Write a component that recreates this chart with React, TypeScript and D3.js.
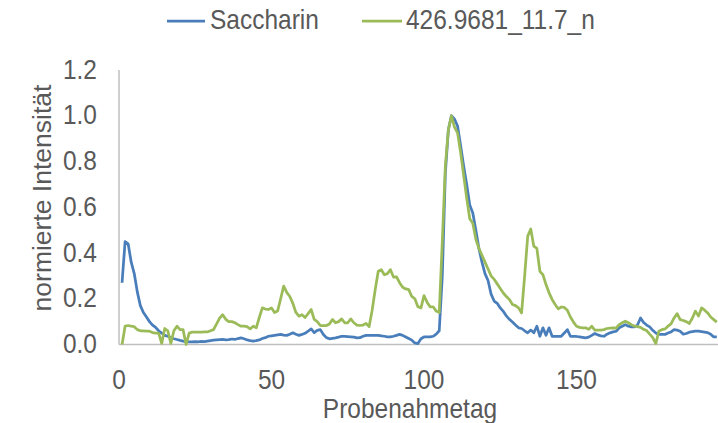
import React from "react";
import * as d3 from "d3";

const seriesNames = ["Saccharin", "426.9681_11.7_n"];

const saccharin = [
  0.27, 0.45, 0.44, 0.36, 0.31, 0.23, 0.17, 0.14, 0.12, 0.10,
  0.085, 0.075, 0.06, 0.05, 0.04, 0.036, 0.03, 0.025, 0.022, 0.018,
  0.015, 0.013, 0.012, 0.012, 0.013, 0.012, 0.014, 0.013, 0.015, 0.017,
  0.019, 0.02, 0.021, 0.022, 0.02, 0.021, 0.024, 0.022, 0.026, 0.029,
  0.025, 0.02, 0.017, 0.015, 0.017, 0.02, 0.026, 0.03, 0.036, 0.038,
  0.04, 0.042, 0.044, 0.041, 0.04, 0.045, 0.051, 0.045, 0.04, 0.044,
  0.049, 0.058, 0.068, 0.052, 0.062, 0.065, 0.044, 0.03, 0.025, 0.027,
  0.029, 0.032, 0.036, 0.035, 0.034, 0.033, 0.032, 0.029, 0.03, 0.036,
  0.04, 0.04, 0.04, 0.04, 0.04, 0.038, 0.036, 0.033, 0.033, 0.036,
  0.04, 0.044, 0.04, 0.033, 0.026, 0.019, 0.007, 0.004, 0.025, 0.033,
  0.033, 0.033, 0.036, 0.045, 0.06, 0.3, 0.75, 0.94, 1.0, 0.985,
  0.955, 0.87, 0.78, 0.70, 0.61, 0.575, 0.50, 0.42, 0.36, 0.31,
  0.28, 0.22, 0.19, 0.18, 0.16, 0.145, 0.125, 0.11, 0.098, 0.085,
  0.073, 0.07, 0.06, 0.051, 0.063, 0.051, 0.08, 0.036, 0.073, 0.04,
  0.073, 0.036, 0.036, 0.036, 0.036, 0.05, 0.065, 0.036, 0.036, 0.035,
  0.033, 0.031, 0.029, 0.032, 0.04, 0.048, 0.042, 0.038, 0.036, 0.045,
  0.051, 0.055, 0.058, 0.073, 0.08, 0.087, 0.08, 0.077, 0.077, 0.085,
  0.116, 0.096, 0.085, 0.077, 0.062, 0.05, 0.044, 0.044, 0.044, 0.05,
  0.055, 0.065, 0.063, 0.058, 0.045, 0.048, 0.054, 0.056, 0.058, 0.058,
  0.056, 0.054, 0.052, 0.045, 0.033, 0.033,
];

const compound = [
  0.0, 0.08, 0.083, 0.08, 0.078, 0.065, 0.06, 0.06, 0.058, 0.058,
  0.052, 0.05, 0.05, 0.005, 0.07, 0.06, 0.005, 0.06, 0.08, 0.065,
  0.065, 0.0, 0.05, 0.054, 0.054, 0.054, 0.054, 0.055, 0.055, 0.06,
  0.065, 0.09, 0.115, 0.13, 0.11, 0.1, 0.1, 0.095, 0.087, 0.08,
  0.08, 0.078, 0.068, 0.08, 0.073, 0.118, 0.16, 0.155, 0.153, 0.16,
  0.14, 0.146, 0.2, 0.255, 0.228, 0.21, 0.18, 0.14, 0.124, 0.13,
  0.118, 0.135, 0.153, 0.11, 0.1, 0.083, 0.083, 0.083, 0.09, 0.109,
  0.095, 0.1, 0.112, 0.095, 0.095, 0.112, 0.095, 0.085, 0.083, 0.085,
  0.092, 0.078, 0.15, 0.24, 0.32, 0.327, 0.305, 0.31, 0.327, 0.295,
  0.296, 0.27, 0.25, 0.243, 0.24, 0.21, 0.2, 0.165, 0.16, 0.214,
  0.185, 0.165, 0.165, 0.146, 0.14, 0.45, 0.78, 0.94, 1.0, 0.95,
  0.925, 0.84, 0.74, 0.64, 0.55, 0.53, 0.46, 0.42, 0.39, 0.36,
  0.33, 0.30, 0.285, 0.265, 0.245, 0.225, 0.21, 0.197, 0.175, 0.17,
  0.16, 0.138, 0.3, 0.473, 0.505, 0.43, 0.42, 0.32, 0.305, 0.262,
  0.226, 0.197, 0.175, 0.156, 0.164, 0.162, 0.15, 0.12, 0.098, 0.08,
  0.075, 0.073, 0.073, 0.066, 0.08, 0.063, 0.063, 0.063, 0.065, 0.07,
  0.072, 0.073, 0.072, 0.087, 0.095, 0.102, 0.095, 0.087, 0.08, 0.078,
  0.075, 0.066, 0.061, 0.045, 0.03, 0.004, 0.058, 0.065, 0.068, 0.08,
  0.09, 0.116, 0.135, 0.109, 0.105, 0.1, 0.092, 0.116, 0.146, 0.124,
  0.16, 0.15, 0.138, 0.12, 0.109, 0.098,
];

const xTicks = [0, 50, 100, 150];
const yTicks = [0, 0.2, 0.4, 0.6, 0.8, 1.0, 1.2];
const xTitle = "Probenahmetag";
const yTitle = "normierte Intensität";

const colors = ["#4A7EBB", "#9BBB59"];
const textColor = "#595959";
const FONT = "'Liberation Sans', Arial, sans-serif";
const FS = 24.5;
const SY = 1.12;

export default function App() {
  const W = 718, H = 423;
  const x = d3.scaleLinear().domain([0, 200]).range([119, 729]);
  const y = d3.scaleLinear().domain([0, 1.2]).range([344.5, 70]);
  const line = d3
    .line<number>()
    .x((_, i) => x(i + 1))
    .y((d) => y(d));
  const series = [saccharin, compound];

  const T = (props: { x: number; y: number; anchor?: string; rotate?: boolean; size?: number; children: React.ReactNode }) => (
    <text
      transform={`translate(${props.x},${props.y})${props.rotate ? " rotate(-90)" : ""} scale(1,${props.rotate ? 1 : SY})`}
      textAnchor={props.anchor || "start"}
      fontFamily={FONT}
      fontSize={props.size || FS}
      fill={textColor}
    >
      {props.children}
    </text>
  );

  return (
    <svg width={W} height={H} style={{ position: "absolute", left: 0, top: 0, background: "#fff" }}>
      <defs>
        <clipPath id="plotclip">
          <rect x={0} y={0} width={W} height={H} />
        </clipPath>
      </defs>
      <line x1={x(0)} x2={W} y1={y(0)} y2={y(0)} stroke="#BFBFBF" strokeWidth={1.5} />
      <line x1={x(0)} x2={x(0)} y1={y(1.2)} y2={y(0)} stroke="#BFBFBF" strokeWidth={1.5} />
      {yTicks.map((t) => (
        <T key={"y" + t} x={97} y={y(t) + 8.5} anchor="end">
          {t.toFixed(1)}
        </T>
      ))}
      {xTicks.map((t) => (
        <T key={"x" + t} x={x(t)} y={389} anchor="middle">
          {String(t)}
        </T>
      ))}
      <T x={410} y={418} anchor="middle">{xTitle}</T>
      <T x={51} y={198} anchor="middle" rotate size={26.5}>{yTitle}</T>
      <g clipPath="url(#plotclip)">
        {series.map((s, i) => (
          <path
            key={i}
            d={line(s) || ""}
            fill="none"
            stroke={colors[i]}
            strokeWidth={2.75}
            strokeLinejoin="round"
          />
        ))}
      </g>
      <line x1={167} x2={205} y1={21} y2={21} stroke={colors[0]} strokeWidth={2.75} />
      <T x={210} y={29}>{seriesNames[0]}</T>
      <line x1={362} x2={402} y1={21} y2={21} stroke={colors[1]} strokeWidth={2.75} />
      <T x={406} y={29}>{seriesNames[1]}</T>
    </svg>
  );
}
